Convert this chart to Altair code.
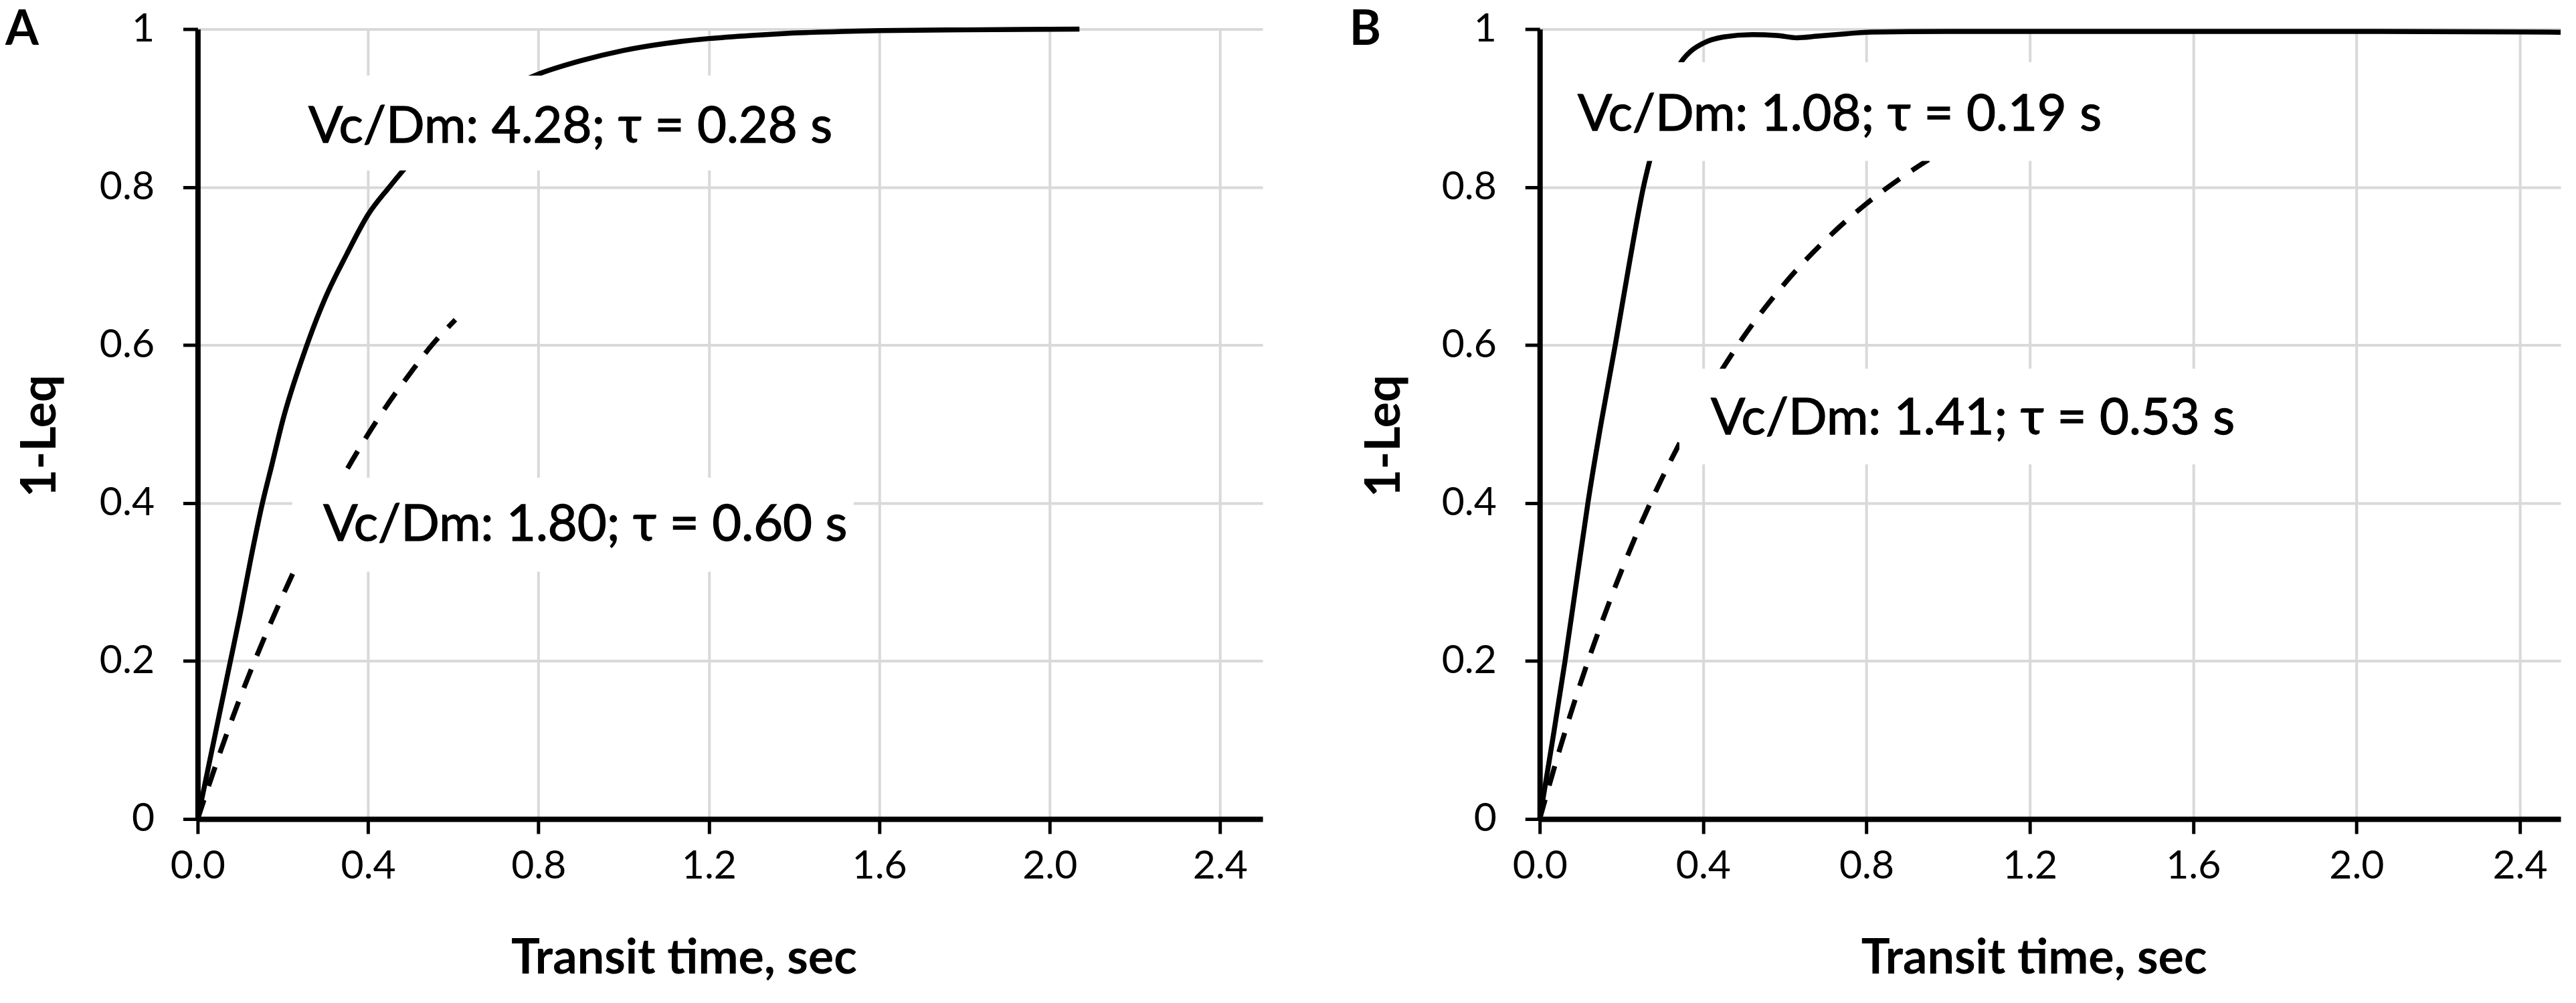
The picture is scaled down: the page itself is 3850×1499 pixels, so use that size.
import altair as alt
import pandas as pd

# ---------------- data ----------------
X_TICKS = [0.0, 0.4, 0.8, 1.2, 1.6, 2.0, 2.4]
Y_TICKS = [0, 0.2, 0.4, 0.6, 0.8, 1]

# Panel A, solid curve (Vc/Dm 4.28, tau 0.28 s)
a_solid_t = [0, 0.025, 0.05, 0.075, 0.1, 0.125, 0.15, 0.175, 0.2, 0.25, 0.3, 0.35,
             0.4, 0.45, 0.5, 0.6, 0.7, 0.8, 0.9, 1.0, 1.1, 1.2, 1.3, 1.4, 1.6, 1.8, 2.07]
a_solid_y = [0, 0.065, 0.13, 0.195, 0.26, 0.33, 0.395, 0.45, 0.505, 0.59, 0.66, 0.715,
             0.765, 0.80, 0.832, 0.883, 0.918, 0.943, 0.96, 0.973, 0.982, 0.988, 0.992,
             0.995, 0.998, 0.999, 1.0]
# Panel A, dashed curve (Vc/Dm 1.80, tau 0.60 s)
a_dash_t = [0, 0.05, 0.1, 0.15, 0.2, 0.25, 0.3, 0.35, 0.4, 0.45, 0.5, 0.55, 0.605]
a_dash_y = [0, 0.08, 0.154, 0.221, 0.283, 0.341, 0.393, 0.442, 0.487, 0.528, 0.565, 0.60, 0.632]

# Panel B, solid curve (Vc/Dm 1.08, tau 0.19 s)
b_solid_t = [0, 0.03, 0.062, 0.09, 0.118, 0.15, 0.185, 0.22, 0.254, 0.28, 0.31, 0.346,
             0.37, 0.40, 0.45, 0.52, 0.58, 0.63, 0.68, 0.75, 0.8, 1.0, 1.5, 2.0, 2.5]
b_solid_y = [0, 0.095, 0.2, 0.3, 0.4, 0.5, 0.6, 0.705, 0.8, 0.855, 0.915, 0.958,
             0.972, 0.982, 0.99, 0.993, 0.992, 0.989, 0.991, 0.994, 0.996, 0.997,
             0.997, 0.997, 0.996]
# Panel B, dashed curve (Vc/Dm 1.41, tau 0.53 s)
b_dash_t = [0, 0.05, 0.1, 0.15, 0.2, 0.25, 0.3, 0.35, 0.4, 0.45, 0.5, 0.6, 0.7, 0.8, 0.9, 0.975]
b_dash_y = [0, 0.09, 0.172, 0.246, 0.314, 0.376, 0.432, 0.483, 0.53, 0.572, 0.611,
            0.678, 0.733, 0.779, 0.817, 0.842]

# Annotation labels (text anchor and white box extents, in data units)
a_labels = ["Vc/Dm: 4.28; τ = 0.28 s", "Vc/Dm: 1.80; τ = 0.60 s"]
a_lab_x = [0.260, 0.295]
a_lab_y = [0.856, 0.352]
a_box_x0 = [0.226, 0.222]
a_box_x1 = [1.50, 1.54]
a_box_y0 = [0.821, 0.313]
a_box_y1 = [0.941, 0.432]

b_labels = ["Vc/Dm: 1.08; τ = 0.19 s", "Vc/Dm: 1.41; τ = 0.53 s"]
b_lab_x = [0.093, 0.419]
b_lab_y = [0.872, 0.487]
b_box_x0 = [0.06, 0.342]
b_box_x1 = [1.39, 1.709]
b_box_y0 = [0.833, 0.449]
b_box_y1 = [0.958, 0.570]

FONT = "Lato, 'Noto Sans', sans-serif"


def panel(st, sy, dt, dy, labels, lx, ly, bx0, bx1, by0, by1, letter,
          width, letter_x, xtitle_x, ytitle_x):
    xs = alt.Scale(domain=[0, 2.5], nice=False, zero=True)
    ys = alt.Scale(domain=[0, 1], nice=False)
    xaxis = alt.Axis(values=X_TICKS, format=".1f", title="Transit time, sec",
                     labelFlush=False, labelBaseline="alphabetic", labelPadding=67,
                     titleX=xtitle_x, titleY=231, titleBaseline="alphabetic",
                     titleAlign="center")
    yaxis = alt.Axis(values=Y_TICKS, format="~g", title="1-Leq", labelPadding=43,
                     titleAngle=-90, titleX=ytitle_x, titleY=609,
                     titleBaseline="middle", titleAlign="center")

    df_s = pd.DataFrame({"t": st, "y": sy})
    df_d = pd.DataFrame({"t": dt, "y": dy})
    df_a = pd.DataFrame({"label": labels, "t": lx, "y": ly,
                         "x0": bx0, "x1": bx1, "y0": by0, "y1": by1})

    solid = alt.Chart(df_s).mark_line(color="black", strokeWidth=7.5,
                                      interpolate="monotone").encode(
        x=alt.X("t:Q", scale=xs, axis=xaxis),
        y=alt.Y("y:Q", scale=ys, axis=yaxis))
    dashed = alt.Chart(df_d).mark_line(color="black", strokeWidth=7.5,
                                       strokeDash=[30, 22],
                                       interpolate="monotone").encode(
        x=alt.X("t:Q", scale=xs, axis=xaxis),
        y=alt.Y("y:Q", scale=ys, axis=yaxis))
    boxes = alt.Chart(df_a).mark_rect(color="white").encode(
        x=alt.X("x0:Q", scale=xs, axis=xaxis), x2="x1:Q",
        y=alt.Y("y0:Q", scale=ys, axis=yaxis), y2="y1:Q")
    texts = alt.Chart(df_a).mark_text(align="left", baseline="alphabetic",
                                      font=FONT, fontSize=76,
                                      color="black", stroke="black",
                                      strokeWidth=1.3).encode(
        x=alt.X("t:Q", scale=xs, axis=xaxis),
        y=alt.Y("y:Q", scale=ys, axis=yaxis),
        text="label:N")
    let = alt.Chart(pd.DataFrame({"l": [letter]})).mark_text(
        align="left", baseline="alphabetic", font=FONT, fontSize=72,
        fontWeight="bold", color="black").encode(
        x=alt.value(letter_x), y=alt.value(24), text="l:N")
    return alt.layer(solid, dashed, boxes, texts, let).properties(
        width=width, height=1183)


pa = panel(a_solid_t, a_solid_y, a_dash_t, a_dash_y, a_labels, a_lab_x, a_lab_y,
           a_box_x0, a_box_x1, a_box_y0, a_box_y1, "A", 1595, -288, 728, -235)
pb = panel(b_solid_t, b_solid_y, b_dash_t, b_dash_y, b_labels, b_lab_x, b_lab_y,
           b_box_x0, b_box_x1, b_box_y0, b_box_y1, "B", 1529, -285, 740, -232)

chart = alt.hconcat(pa, pb, spacing=130).properties(
    padding=0, background="white"
).configure_view(strokeWidth=0).configure_axis(
    domainColor="black", domainWidth=8, tickColor="black", tickWidth=5,
    tickSize=22, labelFont=FONT, labelFontSize=59,
    labelColor="black",
    titleFont=FONT, titleFontSize=72, titleFontWeight="bold", titleColor="black",
    gridColor="#d9d9d9", gridWidth=4
)

chart.save("out.html", embed_options={"renderer": "svg", "actions": False})
